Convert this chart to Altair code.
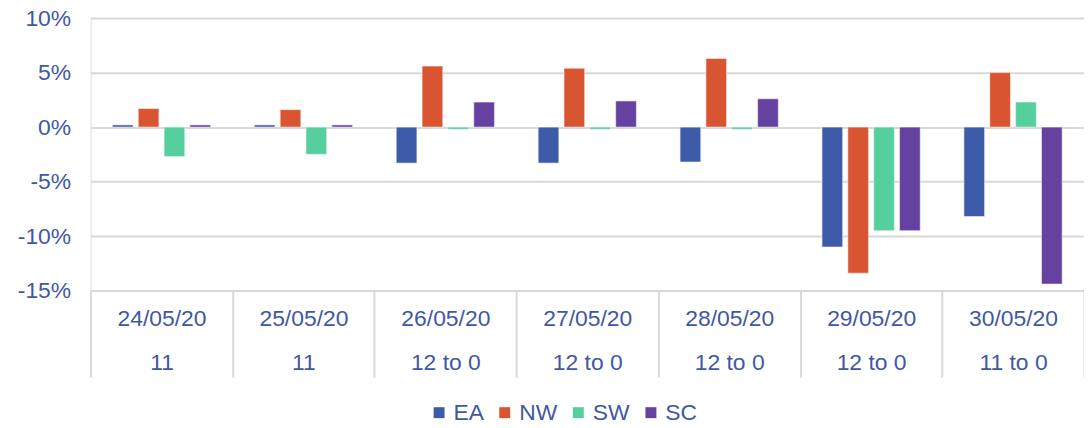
import altair as alt
import pandas as pd

dates = ["24/05/20", "25/05/20", "26/05/20", "27/05/20", "28/05/20", "29/05/20", "30/05/20"]
sublabels = ["11", "11", "12 to 0", "12 to 0", "12 to 0", "12 to 0", "11 to 0"]
series = ["EA", "NW", "SW", "SC"]
colors = ["#3E5BA9", "#D95531", "#55CF9D", "#6541A0"]

EA = [0.002, 0.002, -0.033, -0.033, -0.032, -0.110, -0.082]
NW = [0.017, 0.016, 0.056, 0.054, 0.063, -0.134, 0.050]
SW = [-0.027, -0.025, -0.002, -0.002, -0.002, -0.095, 0.023]
SC = [0.002, 0.002, 0.023, 0.024, 0.026, -0.095, -0.144]

values = {"EA": EA, "NW": NW, "SW": SW, "SC": SC}
rows = []
for i, d in enumerate(dates):
    cat = d + "|" + sublabels[i]
    for s in series:
        rows.append({"cat": cat, "series": s, "value": values[s][i]})
df = pd.DataFrame(rows)
cats = [d + "|" + s for d, s in zip(dates, sublabels)]

FONT = "Liberation Sans"
TXT = "#3F58A6"
GRID = "#D9D9D9"

chart = alt.Chart(df).mark_bar(stroke="#F2F2F2", strokeWidth=0.6).encode(
    x=alt.X("cat:N", sort=cats, title=None,
            scale=alt.Scale(paddingInner=0, paddingOuter=0),
            axis=alt.Axis(labelExpr="split(datum.label, '|')", labelAngle=0,
                          labelFont=FONT, labelFontSize=23, labelColor=TXT,
                          labelLineHeight=44, labelPadding=-70,
                          tickBand="extent", tickSize=87, tickColor=GRID, tickWidth=2,
                          domainColor=GRID, domainWidth=2, labelOverlap=False)),
    xOffset=alt.XOffset("series:N", sort=series,
                        scale=alt.Scale(paddingInner=0.2, paddingOuter=0.845)),
    y=alt.Y("value:Q", title=None,
            scale=alt.Scale(domain=[-0.15, 0.10], nice=False, zero=False),
            axis=alt.Axis(values=[-0.15, -0.10, -0.05, 0, 0.05, 0.10],
                          labelExpr="(datum.value < 0 ? '-' : '') + format(abs(datum.value)*100, '.0f') + '%'",
                          labelFont=FONT, labelFontSize=23, labelColor=TXT,
                          labelPadding=20, ticks=False, domain=False,
                          gridColor=GRID, gridWidth=2)),
    color=alt.Color("series:N", sort=series,
                    scale=alt.Scale(domain=series, range=colors),
                    legend=alt.Legend(title=None, orient="none", direction="horizontal",
                                      legendX=339, legendY=385,
                                      symbolType="square", symbolSize=121,
                                      symbolStrokeWidth=0, labelOffset=3,
                                      columnPadding=9,
                                      labelFont=FONT, labelFontSize=23, labelColor=TXT)),
).properties(
    width=999, height=274,
    autosize=alt.AutoSizeParams(type="none"),
    padding={"left": 83, "top": 9, "right": 0, "bottom": 137},
).configure_view(stroke=None).configure(background="white")

chart.save("out.html", embed_options={"renderer": "svg", "actions": False})
